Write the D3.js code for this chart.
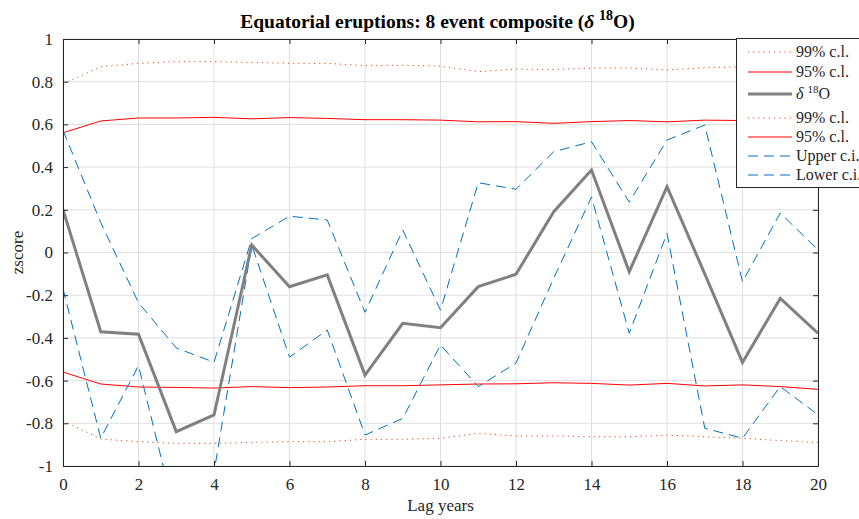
<!DOCTYPE html>
<html>
<head>
<meta charset="utf-8">
<script src="https://cdn.jsdelivr.net/npm/d3@7.9.0/dist/d3.min.js"></script>
<style>
  body { margin: 0; background: #fff; }
  svg { display: block; font-family: "Liberation Serif", "DejaVu Serif", serif; }
</style>
</head>
<body>
<svg id="chart" width="859" height="519"></svg>
<script>
// ====== DATA ======

const lags = d3.range(0, 21);

const d18O = [0.2, -0.371, -0.383, -0.839, -0.761, 0.035, -0.16, -0.105, -0.574, -0.332, -0.352,
  -0.16, -0.102, 0.191, 0.386, -0.09, 0.308, -0.1, -0.515, -0.215, -0.378];

const upperCI = [0.572, 0.14, -0.235, -0.447, -0.514, 0.065, 0.17, 0.152, -0.28, 0.105, -0.27,
  0.327, 0.296, 0.472, 0.519, 0.236, 0.527, 0.597, -0.137, 0.185, 0.012];

const lowerCI = [-0.17, -0.87, -0.53, -1.25, -1.03, 0.035, -0.49, -0.363, -0.855, -0.777, -0.433,
  -0.628, -0.518, -0.12, 0.26, -0.378, 0.09, -0.823, -0.87, -0.628, -0.76];

const upper99 = [0.79, 0.87, 0.886, 0.894, 0.894, 0.89, 0.886, 0.886, 0.875, 0.877, 0.873,
  0.847, 0.859, 0.857, 0.864, 0.864, 0.855, 0.866, 0.87, 0.881, 0.89];

const upper95 = [0.561, 0.616, 0.63, 0.63, 0.633, 0.626, 0.632, 0.628, 0.622, 0.622, 0.62,
  0.612, 0.613, 0.605, 0.613, 0.618, 0.612, 0.62, 0.618, 0.626, 0.64];

const lower99 = [-0.788, -0.874, -0.886, -0.894, -0.894, -0.889, -0.886, -0.886, -0.875, -0.875, -0.87,
  -0.847, -0.859, -0.859, -0.863, -0.863, -0.855, -0.863, -0.87, -0.881, -0.89];

const lower95 = [-0.56, -0.616, -0.63, -0.632, -0.635, -0.628, -0.633, -0.63, -0.624, -0.624, -0.62,
  -0.616, -0.615, -0.61, -0.613, -0.621, -0.613, -0.625, -0.62, -0.628, -0.641];

const xTicks = d3.range(0, 21, 2);
const yTicks = d3.range(-1, 1.0001, 0.2).map((v) => Math.round(v * 10) / 10);

// ====== LAYOUT ======

const svg = d3.select('#chart');
const margin = { left: 63, right: 859 - 818, top: 39, bottom: 519 - 466 };
const W = 859, H = 519;

const x = d3.scaleLinear().domain([0, 20]).range([margin.left, W - margin.right]);
const y = d3.scaleLinear().domain([-1, 1]).range([H - margin.bottom, margin.top]);

const axisColor = '#262626';
const gridColor = '#dfdfdf';
const serif = '"Liberation Serif", "DejaVu Serif", serif';

svg.append('clipPath').attr('id', 'plotClip')
  .append('rect')
  .attr('x', x(0)).attr('y', y(1))
  .attr('width', x(20) - x(0)).attr('height', y(-1) - y(1));

// grid
const grid = svg.append('g');
grid.selectAll('line.gx').data(xTicks).join('line')
  .attr('x1', (d) => x(d)).attr('x2', (d) => x(d))
  .attr('y1', y(-1)).attr('y2', y(1))
  .attr('stroke', gridColor).attr('stroke-width', 1);
grid.selectAll('line.gy').data(yTicks).join('line')
  .attr('x1', x(0)).attr('x2', x(20))
  .attr('y1', (d) => y(d)).attr('y2', (d) => y(d))
  .attr('stroke', gridColor).attr('stroke-width', 1);

// ====== SERIES ======

const line = d3.line().x((d, i) => x(lags[i])).y((d) => y(d));

const series = [
  { data: upper99, color: '#D95319', width: 1, dash: '1.2,4' },
  { data: lower99, color: '#D95319', width: 1, dash: '1.2,4' },
  { data: upper95, color: '#FF0000', width: 1, dash: null },
  { data: lower95, color: '#FF0000', width: 1, dash: null },
  { data: upperCI, color: '#0072BD', width: 1, dash: '10,6' },
  { data: lowerCI, color: '#0072BD', width: 1, dash: '10,6' },
  { data: d18O, color: '#808080', width: 3, dash: null },
];

const plot = svg.append('g').attr('clip-path', 'url(#plotClip)');
plot.selectAll('path').data(series).join('path')
  .attr('d', (s) => line(s.data))
  .attr('fill', 'none')
  .attr('stroke', (s) => s.color)
  .attr('stroke-width', (s) => s.width)
  .attr('stroke-dasharray', (s) => s.dash)
  .attr('stroke-linejoin', 'miter');

// ====== AXES ======

const fmt = (d) => (d === 0 ? '0' : String(d));

const xAxisBottom = d3.axisBottom(x).tickValues(xTicks).tickSize(-5).tickPadding(12).tickFormat(fmt);
const xAxisTop = d3.axisTop(x).tickValues(xTicks).tickSize(-5).tickFormat('');
const yAxisLeft = d3.axisLeft(y).tickValues(yTicks).tickSize(-5).tickPadding(10).tickFormat(fmt);
const yAxisRight = d3.axisRight(y).tickValues(yTicks).tickSize(-5).tickFormat('');

function styleAxis(g) {
  g.attr('font-family', serif).attr('font-size', 17);
  g.select('.domain').attr('stroke', axisColor).attr('stroke-width', 1);
  g.selectAll('.tick line').attr('stroke', axisColor).attr('stroke-width', 1);
  g.selectAll('.tick text').attr('fill', axisColor);
}

svg.append('g').attr('transform', `translate(0,${y(-1)})`).call(xAxisBottom).call(styleAxis);
svg.append('g').attr('transform', `translate(0,${y(1)})`).call(xAxisTop).call(styleAxis);
svg.append('g').attr('transform', `translate(${x(0)},0)`).call(yAxisLeft).call(styleAxis);
svg.append('g').attr('transform', `translate(${x(20)},0)`).call(yAxisRight).call(styleAxis);

// drop the outer end ticks from the domain paths
svg.selectAll('.domain').attr('d', function () {
  return d3.select(this).attr('d').replace(/V-?5/g, '').replace(/H-?5/g, '');
});

// labels
svg.append('text')
  .attr('x', (x(0) + x(20)) / 2).attr('y', 511)
  .attr('text-anchor', 'middle').attr('fill', axisColor)
  .style('font-size', '17px').text('Lag years');

svg.append('text')
  .attr('transform', `translate(23,${(y(1) + y(-1)) / 2}) rotate(-90)`)
  .attr('text-anchor', 'middle').attr('fill', axisColor)
  .style('font-size', '17px').text('zscore');

const title = svg.append('text')
  .attr('x', (x(0) + x(20)) / 2 - 3).attr('y', 28)
  .attr('text-anchor', 'middle').attr('fill', '#000')
  .style('font-size', '19.5px').style('font-weight', 'bold');
title.append('tspan').text('Equatorial eruptions: 8 event composite (');
title.append('tspan').style('font-style', 'italic').text('δ ');
title.append('tspan').attr('dy', -8).style('font-size', '14px').text('18');
title.append('tspan').attr('dy', 8).text('O)');

// ====== LEGEND ======

const legendItems = [
  { label: '99% c.l.', color: '#D95319', width: 1, dash: '1.2,4' },
  { label: '95% c.l.', color: '#FF0000', width: 1, dash: null },
  { label: 'd18O', color: '#808080', width: 3, dash: null },
  { label: '99% c.l.', color: '#D95319', width: 1, dash: '1.2,4' },
  { label: '95% c.l.', color: '#FF0000', width: 1, dash: null },
  { label: 'Upper c.i.', color: '#0072BD', width: 1, dash: '10,6' },
  { label: 'Lower c.i.', color: '#0072BD', width: 1, dash: '10,6' },
];
const legendRows = [52, 72, 94, 118, 137, 156, 175];

const legend = svg.append('g');
legend.append('rect')
  .attr('x', 736.5).attr('y', 38.5).attr('width', 140).attr('height', 149)
  .attr('fill', '#fff').attr('stroke', axisColor).attr('stroke-width', 1);

const rows = legend.selectAll('g.row').data(legendItems).join('g')
  .attr('transform', (d, i) => `translate(0,${legendRows[i]})`);
rows.append('line')
  .attr('x1', 748).attr('x2', 792).attr('y1', 0).attr('y2', 0)
  .attr('stroke', (d) => d.color).attr('stroke-width', (d) => d.width)
  .attr('stroke-dasharray', (d) => d.dash);
rows.each(function (d) {
  const t = d3.select(this).append('text')
    .attr('x', 796).attr('y', 5).attr('fill', axisColor)
    .style('font-size', '16px');
  if (d.label === 'd18O') {
    t.append('tspan').style('font-style', 'italic').text('δ ');
    t.append('tspan').attr('dy', -6).style('font-size', '11px').text('18');
    t.append('tspan').attr('dy', 6).text('O');
  } else {
    t.text(d.label);
  }
});
</script>
</body>
</html>
